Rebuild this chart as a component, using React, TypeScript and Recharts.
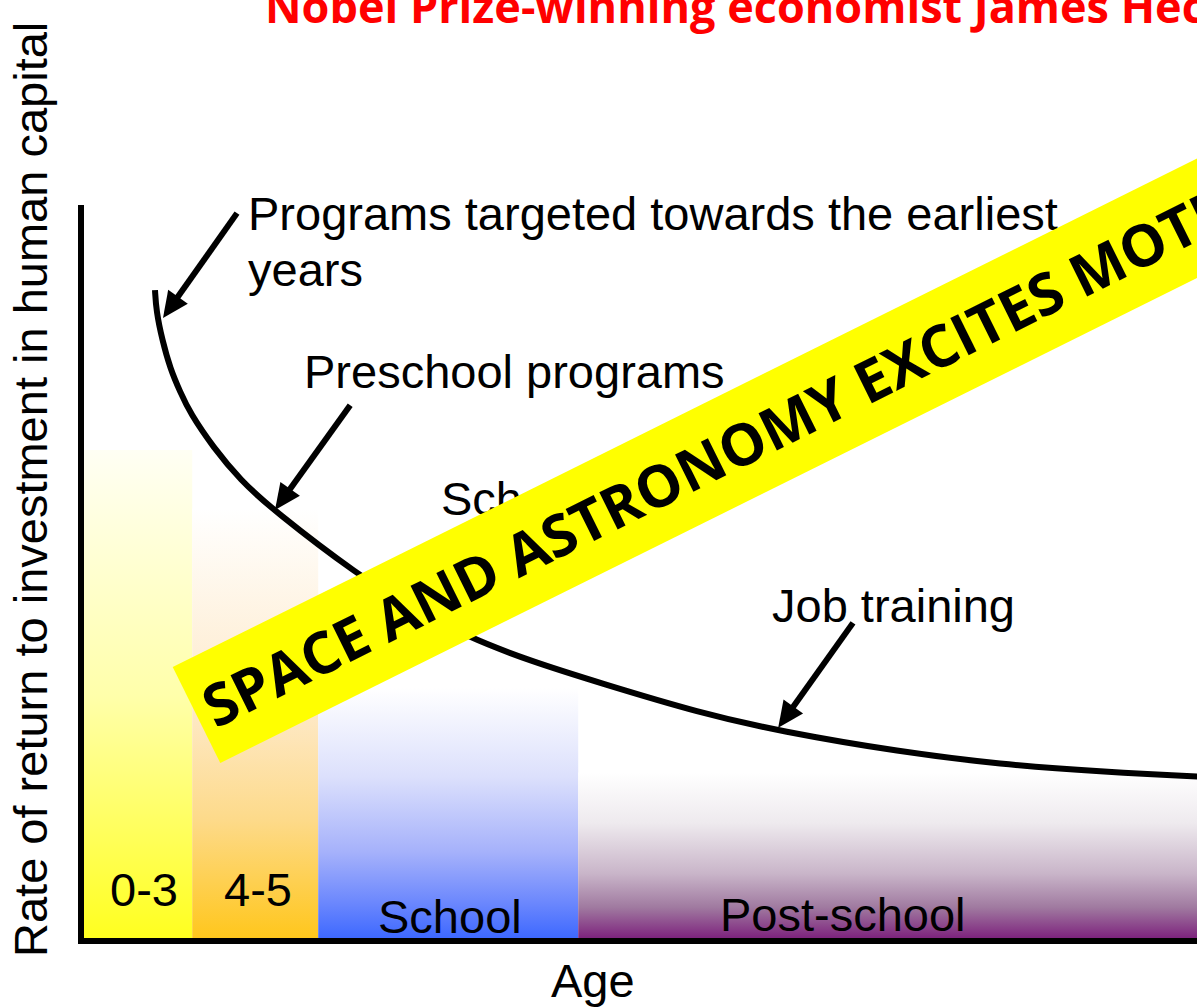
import { ComposedChart, Line, XAxis, YAxis, ReferenceArea, ReferenceLine } from "recharts"

// Heckman curve (age units on x, rate of return on y)
const ages = [1.85, 1.88, 2.03, 2.23, 2.48, 2.73, 3.3, 3.98, 4.8, 6.98, 8.23, 9.65, 11.23, 12.98, 15.48, 17.48, 20.48, 22.98, 25.48, 27.98, 30]
const returns = [8.88, 8.6, 8.2, 7.81, 7.49, 7.2, 6.74, 6.29, 5.88, 4.97, 4.56, 4.15, 3.82, 3.52, 3.11, 2.86, 2.58, 2.41, 2.31, 2.24, 2.2]

// stage bands along the age axis
const stageNames = ["0-3", "4-5", "School", "Post-school"]
const stageStart = [0.05, 2.78, 5.93, 12.43]
const stageEnd = [2.78, 5.93, 12.43, 30]
const stageTop = [6.7, 5.9, 3.45, 2.3]

// annotation arrows: tail and head in chart units
const arrowTail = [
  { x: 3.9, y: 9.93 },
  { x: 6.73, y: 7.31 },
  { x: 19.3, y: 4.34 },
]
const arrowHead = [
  { x: 2.05, y: 8.5 },
  { x: 4.85, y: 5.88 },
  { x: 17.43, y: 2.91 },
]

const curve = ages.map((age, i) => ({ age, ret: returns[i] }))

const gradientStops: [string, string][][] = [
  [["0%", "#FFFFF4"], ["50%", "#FFFFAA"], ["100%", "#FFFF1E"]],
  [["0%", "#FFFFFF"], ["45%", "#FEEACB"], ["72%", "#FDDA8A"], ["100%", "#FFC61A"]],
  [["0%", "#FFFFFF"], ["35%", "#DCE0FC"], ["65%", "#A5B1FB"], ["85%", "#6B87FD"], ["100%", "#3A66FF"]],
  [["0%", "#FFFFFF"], ["30%", "#EEEAEE"], ["60%", "#C9B5C9"], ["80%", "#A07AA0"], ["100%", "#7A1B7A"]],
]

const sans = "'Liberation Sans', Arial, sans-serif"

function Arrow(props: any) {
  const { x1, y1, x2, y2 } = props
  const dx = x2 - x1
  const dy = y2 - y1
  const len = Math.hypot(dx, dy)
  const ux = dx / len
  const uy = dy / len
  const head = 26
  const half = 12
  const bx = x2 - ux * head
  const by = y2 - uy * head
  return (
    <g>
      <line x1={x1} y1={y1} x2={bx + ux * 2} y2={by + uy * 2} stroke="#000" strokeWidth={6} />
      <polygon
        points={`${x2},${y2} ${bx - uy * half},${by + ux * half} ${bx + uy * half},${by - ux * half}`}
        fill="#000"
      />
    </g>
  )
}

export default function App() {
  return (
    <div
      style={{
        position: "fixed",
        left: 0,
        top: 0,
        width: 1197,
        height: 1008,
        overflow: "hidden",
        background: "#fff",
      }}
    >
      <div style={{ position: "absolute", left: 0, top: 0 }}>
        <ComposedChart width={1300} height={1008} data={curve} margin={{ top: 208, right: 19, bottom: 0, left: 0 }}>
          <defs>
            {gradientStops.map((stops, i) => (
              <linearGradient key={i} id={`stage${i}`} x1="0" y1="0" x2="0" y2="1">
                {stops.map(([o, c]) => (
                  <stop key={o} offset={o} stopColor={c} />
                ))}
              </linearGradient>
            ))}
          </defs>
          <XAxis
            type="number"
            dataKey="age"
            domain={[0, 30]}
            tick={false}
            tickLine={false}
            height={67}
            axisLine={{ stroke: "#000", strokeWidth: 6, strokeLinecap: "square" }}
          />
          <YAxis
            type="number"
            domain={[0, 10]}
            tick={false}
            tickLine={false}
            width={81}
            axisLine={{ stroke: "#000", strokeWidth: 6, strokeLinecap: "square" }}
          />
          {stageNames.map((name, i) => (
            <ReferenceArea
              key={name}
              x1={stageStart[i]}
              x2={stageEnd[i]}
              y1={0}
              y2={stageTop[i]}
              fill={`url(#stage${i})`}
              fillOpacity={1}
              stroke="none"
            />
          ))}
          <Line
            dataKey="ret"
            type="basis"
            stroke="#000"
            strokeWidth={6}
            dot={false}
            activeDot={false}
            isAnimationActive={false}
          />
          {arrowTail.map((t, i) => (
            <ReferenceLine key={i} segment={[t, arrowHead[i]]} shape={(p: any) => <Arrow {...p} />} />
          ))}
        </ComposedChart>
      </div>
      <svg
        width={1197}
        height={1008}
        style={{ position: "absolute", left: 0, top: 0, pointerEvents: "none" }}
      >
        <text x={265} y={22.5} fill="#FF0000" fontFamily="'Open Sans', sans-serif" fontWeight={700} fontSize={45}>
          Nobel Prize-winning economist James Heckman
        </text>
        <g fontFamily={sans} fontSize={47} fill="#000">
          <text transform="translate(47, 957) rotate(-90)">Rate of return to investment in human capital</text>
          <text x={551} y={997}>Age</text>
          <text x={248} y={230}>Programs targeted towards the earliest</text>
          <text x={248} y={286}>years</text>
          <text x={304} y={388}>Preschool programs</text>
          <text x={441} y={515}>Schooling</text>
          <text x={772} y={622}>Job training</text>
          <text x={110} y={906}>{stageNames[0]}</text>
          <text x={224} y={906}>{stageNames[1]}</text>
          <text x={378} y={933}>{stageNames[2]}</text>
          <text x={720} y={931}>{stageNames[3]}</text>
        </g>
        <g transform="translate(196.5, 715) rotate(-26.4)">
          <rect x={0} y={-53.5} width={1500} height={107} fill="#FFFF00" />
          <text x={11} y={21} fontFamily="'Open Sans', sans-serif" fontWeight={700} fontSize={58} fill="#000">
            SPACE AND ASTRONOMY EXCITES MOTIVATION
          </text>
        </g>
      </svg>
    </div>
  )
}
